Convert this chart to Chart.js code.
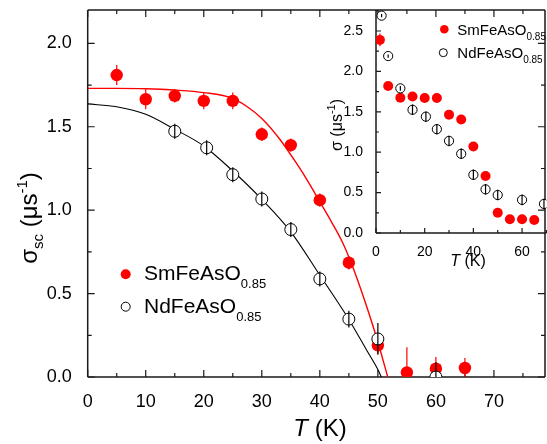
<!DOCTYPE html>
<html>
<head>
<meta charset="utf-8">
<script src="https://cdn.jsdelivr.net/npm/chart.js@4.4.1/dist/chart.umd.min.js"></script>
<style>
  html, body { margin: 0; padding: 0; background: #fff; }
  #wrap { position: relative; width: 547px; height: 444px; overflow: hidden; }
  #main { position: absolute; left: 0; top: 0; }
  #inset { position: absolute; left: 290px; top: 0; }
</style>
</head>
<body>
<div id="wrap">
  <canvas id="main" width="552" height="444"></canvas>
  <canvas id="inset" width="262" height="290"></canvas>
</div>
<script>
// main panel: sigma_sc vs T
const mainT_Sm = [5, 10, 15, 20, 25, 30, 35, 40, 45, 50, 55, 60, 65];
const mainSig_Sm = [1.81, 1.665, 1.685, 1.655, 1.655, 1.455, 1.39, 1.06, 0.685, 0.19, 0.028, 0.05, 0.054];
const mainErr_Sm = [0.06, 0.06, 0.04, 0.05, 0.05, 0.04, 0.04, 0.04, 0.04, 0.05, 0.15, 0.07, 0.06];
const mainT_Nd = [15, 20.5, 25, 30, 35, 40, 45, 50, 60];
const mainSig_Nd = [1.473, 1.374, 1.213, 1.067, 0.884, 0.588, 0.347, 0.228, 0];
const mainErr_Nd = [0.045, 0.045, 0.045, 0.045, 0.045, 0.045, 0.05, 0.095, 0.088];

// fit curves
const fitT_Sm = [0, 5, 10, 15, 20, 25, 27.5, 30, 33, 36, 38, 40, 42, 44, 46, 48, 50, 51.7];
const fitSig_Sm = [1.73, 1.73, 1.728, 1.72, 1.705, 1.67, 1.62, 1.55, 1.43, 1.28, 1.17, 1.05, 0.93, 0.8, 0.63, 0.43, 0.21, 0];
const fitT_Nd = [0, 5, 10, 15, 20, 25, 30, 35, 40, 45, 48, 50, 50.6];
const fitSig_Nd = [1.637, 1.62, 1.575, 1.485, 1.385, 1.235, 1.065, 0.87, 0.61, 0.345, 0.165, 0.045, 0];

const mainXTicks = [0, 5, 10, 15, 20, 25, 30, 35, 40, 45, 50, 55, 60, 65, 70, 75];
const mainXLabels = ["0", "", "10", "", "20", "", "30", "", "40", "", "50", "", "60", "", "70", ""];
const mainYTicks = [0, 0.25, 0.5, 0.75, 1, 1.25, 1.5, 1.75, 2];
const mainYLabels = ["0.0", "", "0.5", "", "1.0", "", "1.5", "", "2.0"];

// inset: sigma vs T
const insetT_Sm = [1.6, 5, 10, 15, 20, 25, 30, 35, 40, 45, 50, 55, 60, 65];
const insetSig_Sm = [2.39, 1.82, 1.675, 1.69, 1.67, 1.67, 1.465, 1.405, 1.07, 0.705, 0.25, 0.17, 0.17, 0.16];
const insetErr_Sm = [0.08, 0.03, 0.03, 0.03, 0.03, 0.03, 0.03, 0.03, 0.03, 0.03, 0.03, 0.03, 0.03, 0.03];
const insetT_Nd = [2.3, 5, 10, 15, 20.5, 25, 30, 35, 40, 45, 50, 60, 69];
const insetSig_Nd = [2.69, 2.19, 1.79, 1.525, 1.44, 1.285, 1.14, 0.98, 0.72, 0.54, 0.47, 0.41, 0.36];
const insetErr_Nd = [0.02, 0.02, 0.03, 0.065, 0.065, 0.065, 0.065, 0.065, 0.065, 0.065, 0.065, 0.065, 0.065];

const insetXTicks = [0, 10, 20, 30, 40, 50, 60, 70];
const insetXLabels = ["0", "", "20", "", "40", "", "60", ""];
const insetYTicks = [0, 0.25, 0.5, 0.75, 1, 1.25, 1.5, 1.75, 2, 2.25, 2.5, 2.75];
const insetYLabels = ["0.0", "", "0.5", "", "1.0", "", "1.5", "", "2.0", "", "2.5", ""];

const FAM = "'Liberation Sans', Arial, sans-serif";
const RED = "#ff0000";
const INK = "#1a1a1a";

const pts = (xs, ys) => xs.map((x, i) => ({ x, y: ys[i] }));

function richText(ctx, x, y, parts, align) {
  let w = 0;
  parts.forEach((p) => {
    ctx.font = `${p.italic ? "italic " : ""}${p.size}px ${FAM}`;
    w += ctx.measureText(p.t).width;
  });
  let cx = align === "center" ? x - w / 2 : x;
  ctx.textAlign = "left";
  ctx.textBaseline = "alphabetic";
  ctx.fillStyle = "#000";
  parts.forEach((p) => {
    ctx.font = `${p.italic ? "italic " : ""}${p.size}px ${FAM}`;
    ctx.fillText(p.t, cx, y + (p.dy || 0));
    cx += ctx.measureText(p.t).width;
  });
}

function drawErr(chart, onTop) {
  const { ctx, chartArea: a, scales: { x, y } } = chart;
  ctx.save();
  ctx.beginPath();
  ctx.rect(a.left, a.top, a.right - a.left, a.bottom - a.top);
  ctx.clip();
  chart.data.datasets.forEach((ds) => {
    if (!ds.errors || !!ds.errOnTop !== onTop) return;
    ctx.strokeStyle = ds.errColor;
    ctx.lineWidth = 1.2;
    ds.data.forEach((p, i) => {
      const px = x.getPixelForValue(p.x);
      ctx.beginPath();
      ctx.moveTo(px, y.getPixelForValue(p.y - ds.errors[i]));
      ctx.lineTo(px, y.getPixelForValue(p.y + ds.errors[i]));
      ctx.stroke();
    });
  });
  ctx.restore();
}

// frame + inward ticks, drawn under the data
function framePlugin(sides, major, minor) {
  return {
    id: "frame",
    beforeDatasetsDraw(chart) {
      const { ctx, chartArea: a, scales: { x, y } } = chart;
      ctx.save();
      ctx.strokeStyle = INK;
      ctx.lineWidth = 1.5;
      ctx.beginPath();
      if (sides.includes("left")) { ctx.moveTo(a.left, a.top); ctx.lineTo(a.left, a.bottom); }
      if (sides.includes("bottom")) { ctx.moveTo(a.left, a.bottom); ctx.lineTo(a.right, a.bottom); }
      if (sides.includes("top")) { ctx.moveTo(a.left, a.top); ctx.lineTo(a.right, a.top); }
      if (sides.includes("right")) { ctx.moveTo(a.right, a.top); ctx.lineTo(a.right, a.bottom); }
      ctx.stroke();
      ctx.lineWidth = 1.2;
      ctx.beginPath();
      x.ticks.forEach((t) => {
        const px = x.getPixelForValue(t.value);
        const len = t.label === "" ? minor : major;
        if (sides.includes("bottom")) { ctx.moveTo(px, a.bottom); ctx.lineTo(px, a.bottom - len); }
        if (sides.includes("top")) { ctx.moveTo(px, a.top); ctx.lineTo(px, a.top + len); }
      });
      y.ticks.forEach((t) => {
        const py = y.getPixelForValue(t.value);
        const len = t.label === "" ? minor : major;
        if (sides.includes("left")) { ctx.moveTo(a.left, py); ctx.lineTo(a.left + len, py); }
        if (sides.includes("right")) { ctx.moveTo(a.right, py); ctx.lineTo(a.right - len, py); }
      });
      ctx.stroke();
      ctx.restore();
      drawErr(chart, false);
    },
    afterDatasetsDraw(chart) {
      drawErr(chart, true);
    },
  };
}

function axisOpts(min, max, tickVals, labels, size, pad, fitFn) {
  return {
    type: "linear",
    min, max,
    afterBuildTicks: (s) => { s.ticks = tickVals.map((v) => ({ value: v })); },
    afterFit: (s) => {
      fitFn(s);
      s.paddingTop = 0; s.paddingBottom = 0;
      s.paddingLeft = 0; s.paddingRight = 0;
    },
    grid: { display: false },
    border: { display: false },
    ticks: {
      autoSkip: false,
      maxRotation: 0,
      padding: pad,
      color: "#000",
      font: { family: FAM, size },
      callback: (v, i) => labels[i],
    },
  };
}

const mainTexts = {
  id: "mainTexts",
  afterDraw(chart) {
    const ctx = chart.ctx;
    ctx.save();
    ctx.translate(36.7, 218);
    ctx.rotate(-Math.PI / 2);
    richText(ctx, 0, 0, [
      { t: "σ", size: 24 },
      { t: "sc", size: 15, dy: 6 },
      { t: " (μs", size: 24 },
      { t: "-1", size: 15, dy: -10 },
      { t: ")", size: 24 },
    ], "center");
    ctx.restore();
    richText(ctx, 320, 435.5, [{ t: "T", size: 24, italic: true }, { t: " (K)", size: 24 }], "center");

    // legend
    ctx.save();
    ctx.fillStyle = RED;
    ctx.beginPath(); ctx.arc(125.7, 274.3, 5, 0, Math.PI * 2); ctx.fill();
    ctx.strokeStyle = "#000"; ctx.lineWidth = 1;
    ctx.beginPath(); ctx.arc(125.7, 306.7, 4.5, 0, Math.PI * 2); ctx.stroke();
    ctx.restore();
    richText(ctx, 144, 280, [{ t: "SmFeAsO", size: 21 }, { t: "0.85", size: 13, dy: 8 }]);
    richText(ctx, 144, 313, [{ t: "NdFeAsO", size: 21 }, { t: "0.85", size: 13, dy: 8 }]);
  },
};

const insetTexts = {
  id: "insetTexts",
  afterDraw(chart) {
    const ctx = chart.ctx;
    ctx.save();
    ctx.translate(52, 125);
    ctx.rotate(-Math.PI / 2);
    richText(ctx, 0, 0, [
      { t: "σ", size: 16 },
      { t: " (μs", size: 16 },
      { t: "-1", size: 11, dy: -7 },
      { t: ")", size: 16 },
    ], "center");
    ctx.restore();
    richText(ctx, 178, 266, [{ t: "T", size: 16, italic: true }, { t: " (K)", size: 16 }], "center");

    ctx.save();
    ctx.fillStyle = RED;
    ctx.beginPath(); ctx.arc(154.3, 29.3, 4.3, 0, Math.PI * 2); ctx.fill();
    ctx.strokeStyle = "#000"; ctx.lineWidth = 1;
    ctx.beginPath(); ctx.arc(153.3, 52.7, 4, 0, Math.PI * 2); ctx.stroke();
    ctx.restore();
    richText(ctx, 167.3, 35, [{ t: "SmFeAsO", size: 15 }, { t: "0.85", size: 10, dy: 5 }]);
    richText(ctx, 167.3, 58.3, [{ t: "NdFeAsO", size: 15 }, { t: "0.85", size: 10, dy: 5 }]);
  },
};

new Chart(document.getElementById("main"), {
  type: "scatter",
  data: {
    datasets: [
      {
        data: pts(mainT_Nd, mainSig_Nd),
        errors: mainErr_Nd, errOnTop: true, errColor: "#000",
        pointRadius: 6, pointBackgroundColor: "#fff", pointBorderColor: "#000", pointBorderWidth: 1,
        clip: 0, order: 0,
      },
      {
        data: pts(mainT_Sm, mainSig_Sm),
        errors: mainErr_Sm, errOnTop: false, errColor: RED,
        pointRadius: 6.2, pointBackgroundColor: RED, pointBorderColor: RED, pointBorderWidth: 0,
        clip: 0, order: 1,
      },
      {
        data: pts(fitT_Nd, fitSig_Nd),
        showLine: true, pointRadius: 0, borderColor: "#000", borderWidth: 1.1,
        cubicInterpolationMode: "monotone", clip: 0, order: 2,
      },
      {
        data: pts(fitT_Sm, fitSig_Sm),
        showLine: true, pointRadius: 0, borderColor: RED, borderWidth: 1.4,
        cubicInterpolationMode: "monotone", clip: 0, order: 3,
      },
    ],
  },
  options: {
    responsive: false,
    animation: false,
    layout: { padding: { left: 0, top: 10, right: 4, bottom: 0 } },
    plugins: { legend: { display: false }, tooltip: { enabled: false } },
    scales: {
      x: axisOpts(0, 78.8, mainXTicks, mainXLabels, 18, 6, (s) => { s.height = 67; }),
      y: axisOpts(0, 2.2, mainYTicks, mainYLabels, 18, 8, (s) => { s.width = 87.7; }),
    },
  },
  plugins: [framePlugin(["left", "bottom", "top", "right"], 7, 4), mainTexts],
});

new Chart(document.getElementById("inset"), {
  type: "scatter",
  data: {
    datasets: [
      {
        data: pts(insetT_Nd, insetSig_Nd),
        errors: insetErr_Nd, errOnTop: true, errColor: "#000",
        pointRadius: 4.6, pointBackgroundColor: "#fff", pointBorderColor: "#000", pointBorderWidth: 1,
        clip: 0, order: 0,
      },
      {
        data: pts(insetT_Sm, insetSig_Sm),
        errors: insetErr_Sm, errOnTop: false, errColor: RED,
        pointRadius: 5, pointBackgroundColor: RED, pointBorderColor: RED, pointBorderWidth: 0,
        clip: 0, order: 1,
      },
    ],
  },
  options: {
    responsive: false,
    animation: false,
    layout: { padding: { left: 0, top: 10, right: 4.9, bottom: 0 } },
    plugins: { legend: { display: false }, tooltip: { enabled: false } },
    scales: {
      x: axisOpts(0, 70, insetXTicks, insetXLabels, 14, 3, (s) => { s.height = 57; }),
      y: axisOpts(0, 2.76, insetYTicks, insetYLabels, 14, 5, (s) => { s.width = 86; }),
    },
  },
  plugins: [framePlugin(["left", "bottom"], 5, 3), insetTexts],
});
</script>
</body>
</html>
